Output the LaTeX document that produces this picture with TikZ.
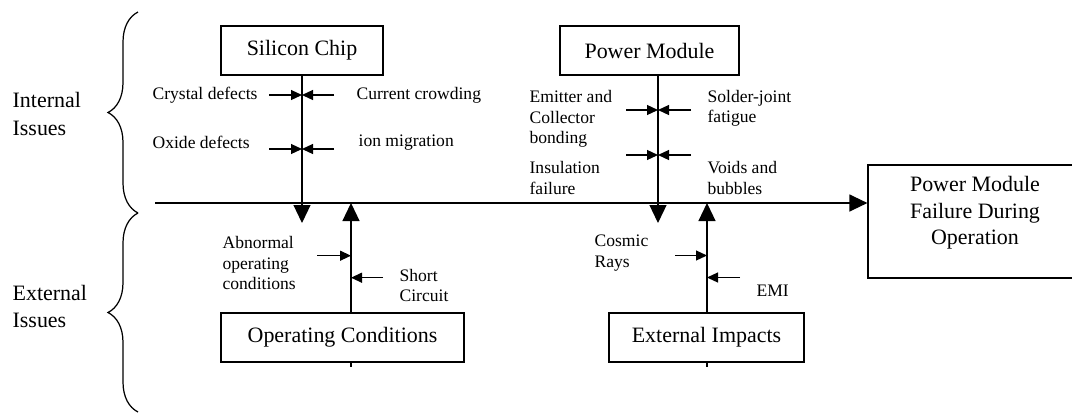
\documentclass[tikz,border=0pt]{standalone}
\usepackage{fontspec}
\setmainfont{Liberation Serif}
\usetikzlibrary{arrows.meta}
\usetikzlibrary{decorations.pathreplacing}

\tikzset{
  box/.style={draw, inner sep=0pt, minimum height=0.98cm, font=\fontsize{12.5}{15}\selectfont},
  lbl/.style={anchor=west, inner sep=0pt, align=left, font=\fontsize{10}{11.7}\selectfont},
  side/.style={anchor=west, inner sep=0pt, align=left, font=\fontsize{12.5}{15.5}\selectfont},
  bigtip/.style={-{Triangle[length=0.36cm, width=0.34cm]}},
  smalltip/.style={-{Triangle[length=0.22cm, width=0.2cm]}},
}

\begin{document}
\begin{tikzpicture}[x=0.02cm, y=0.02cm, line width=0.7pt]

\useasboundingbox (0,0) rectangle (1072,414);

% Kasten
\node[box, minimum width=3.24cm] (SC) at (302,363.5) {Silicon Chip};
\node[box, minimum width=3.58cm] (PM) at (649.5,363.5) {Power Module};
\node[box, minimum width=4.86cm] (OC) at (342.5,76.5) {Operating Conditions};
\node[box, minimum width=3.9cm] (EI) at (706.5,76.5) {External Impacts};
\node[box, minimum width=4.28cm, minimum height=2.26cm] (FD) at (975,192.5) {};
\node[box, draw=none, align=center, minimum height=0pt] (FDtext) at (975,201)
    {Power Module\\Failure During\\Operation};

% Hauptlinie
\coordinate (M0) at (155,211);
\draw[bigtip] (M0) -- (M0 -| FD.west);

% Aeste
\coordinate (SCend) at (302,191);
\coordinate (PMend) at (658,191);
\coordinate (OCend) at (351,211);
\coordinate (EIend) at (707,211);

\draw[bigtip] (SC.south) -- (SCend);
\draw[bigtip] (PM.south -| PMend) -- (PMend);
\draw[bigtip] (OC.north -| OCend) -- (OCend);
\draw[bigtip] (EI.north -| EIend) -- (EIend);

\draw (OC.south -| OCend) -- ++(0,-4);
\draw (EI.south -| EIend) -- ++(0,-4);

% kleine Pfeile
\foreach \y in {319,265} {
  \coordinate (L) at (269,\y);
  \coordinate (R) at (334,\y);
  \coordinate (C) at (302,\y);
  \draw[smalltip] (L) -- (C);
  \draw[smalltip] (R) -- (C);
}
\foreach \y in {304,259} {
  \coordinate (L) at (626,\y);
  \coordinate (R) at (691,\y);
  \coordinate (C) at (658,\y);
  \draw[smalltip] (L) -- (C);
  \draw[smalltip] (R) -- (C);
}

\coordinate (A1) at (317,158.3);
\coordinate (A2) at (383,136.3);
\coordinate (B1) at (675,158.5);
\coordinate (B2) at (740,136.5);
\draw[smalltip] (A1) -- (A1 -| OCend);
\draw[smalltip] (A2) -- (A2 -| OCend);
\draw[smalltip] (B1) -- (B1 -| EIend);
\draw[smalltip] (B2) -- (B2 -| EIend);

% Texte
\node[lbl] (t1) at (152,319) {Crystal defects};
\node[lbl] (t2) at (356,319) {Current crowding};
\node[lbl] (t3) at (152,271.3) {Oxide defects};
\node[lbl] (t4) at (358,271.3) {ion migration};

\node[lbl] (t5) at (529,295) {Emitter and\\Collector\\bonding};
\node[lbl] (t6) at (707,305.5) {Solder-joint\\fatigue};
\node[lbl] (t7) at (529,236) {Insulation\\failure};
\node[lbl] (t8) at (707,236) {Voids and\\bubbles};

\node[lbl] (t9) at (222,151) {Abnormal\\operating\\conditions};
\node[lbl] (t10) at (399,128.5) {Short\\Circuit};
\node[lbl] (t11) at (594,161) {Cosmic\\Rays};
\node[lbl] (t12) at (756,123.5) {EMI};

% Klammern
\coordinate (K0) at (138,2);
\coordinate (K1) at (138,201);
\coordinate (K2) at (138,402);
\draw[decorate, decoration={brace, amplitude=0.6cm}] (K1) -- (K2);
\draw[decorate, decoration={brace, amplitude=0.6cm}] (K0) -- (K1);

\node[side] (II) at (12,300) {Internal\\Issues};
\node[side] (EX) at (12,107.5) {External\\Issues};

\end{tikzpicture}
\end{document}
